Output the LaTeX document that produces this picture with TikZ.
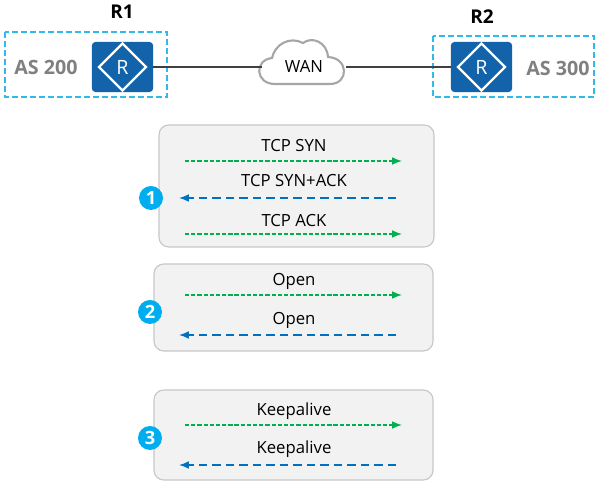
\documentclass[tikz,border=0pt]{standalone}
\usepackage{fontspec}
\setmainfont{Open Sans}
\usetikzlibrary{arrows.meta,shapes.geometric}
\definecolor{routerblue}{RGB}{18,99,170}
\definecolor{dashblue}{RGB}{50,185,235}
\definecolor{badgeblue}{RGB}{0,174,239}
\definecolor{sendgreen}{RGB}{0,176,80}
\definecolor{backblue}{RGB}{0,112,192}
\tikzset{
  asbox/.style={draw=dashblue,line width=0.8pt,dash pattern=on 4pt off 2.4pt},
  router/.style={fill=routerblue,rounded corners=2.5pt,minimum width=1.53cm,minimum height=1.25cm,inner sep=0pt},
  stagebox/.style={draw=black!22,fill=black!5,line width=0.8pt,rounded corners=7pt},
  badge/.style={circle,fill=badgeblue,text=white,font=\fontsize{13}{13}\selectfont\bfseries,minimum size=0.6cm,inner sep=0pt},
  msg/.style={font=\fontsize{11.9}{13}\selectfont,text=black},
  sendarrow/.style={draw=sendgreen,line width=1pt,dash pattern=on 3pt off 1.4pt,-{Latex[length=7pt,width=5.5pt]}},
  backarrow/.style={draw=backblue,line width=1pt,dash pattern=on 6pt off 3.6pt,-{Latex[length=7pt,width=5.5pt]}}
}
\newcommand{\routermark}[1]{
  \node[draw=white,line width=1.7pt,diamond,minimum width=1.2cm,minimum height=1.2cm,inner sep=0pt,text=white,font=\fontsize{14}{14}\selectfont] at (#1) {R};
}
\begin{document}
\begin{tikzpicture}[x=0.025cm,y=-0.025cm]
\useasboundingbox (0,0) rectangle (601,485);
% autonomous systems
\draw[asbox] (5,32) rectangle (167,97);
\draw[asbox] (433,36) rectangle (594,97);
\node[font=\fontsize{13.5}{14}\selectfont\bfseries] (r1label) at (122,12) {R1};
\node[font=\fontsize{13.5}{14}\selectfont\bfseries] (r2label) at (482,17) {R2};
\node[font=\fontsize{14}{14}\selectfont\bfseries,text=black!50] (as200) at (46,67) {AS 200};
\node[font=\fontsize{14}{14}\selectfont\bfseries,text=black!50] (as300) at (558,68) {AS 300};
\node[router] (r1) at (122.5,67) {};
\node[router] (r2) at (481.5,67) {};
\routermark{r1}
\routermark{r2}
% cloud
\draw[draw=black!35,line width=1.5pt,fill=white]
  (275,84) .. controls (255,84) and (254,60) .. (272,58)
  .. controls (275,44) and (290,36) .. (303,43)
  .. controls (312,36) and (327,42) .. (328,57)
  .. controls (349,58) and (349,84) .. (330,84) -- cycle;
\node[msg,minimum width=2.1cm,minimum height=1cm,inner sep=0pt] (wan) at (304,67) {WAN};
\draw[line width=1pt,black!75] (r1.east) -- (wan.west);
\draw[line width=1pt,black!75] (wan.east) -- (r2.west);
% stages
\node[stagebox,minimum width=6.875cm,minimum height=3.05cm] (stage1) at (296.5,186) {};
\node[stagebox,minimum width=6.975cm,minimum height=2.175cm] (stage2) at (293.5,307.5) {};
\node[stagebox,minimum width=6.975cm,minimum height=2.25cm] (stage3) at (293.5,435) {};
\node[badge] (b1) at (151,198) {1};
\node[badge] (b2) at (150,312) {2};
\node[badge] (b3) at (150,438) {3};
\node[msg] (syn) at (294,146) {TCP SYN};
\node[msg] (synack) at (294,181) {TCP SYN+ACK};
\node[msg] (ack) at (294,221) {TCP ACK};
\node[msg] (open1) at (294,281) {Open};
\node[msg] (open2) at (294,320) {Open};
\node[msg] (keep1) at (294,411) {Keepalive};
\node[msg] (keep2) at (294,449) {Keepalive};
% messages
\foreach \y/\n in {161/a,234/b,295/c,425/d}{
  \coordinate (s\n) at (185,\y);
  \coordinate (e\n) at (402,\y);
  \draw[sendarrow] (s\n) -- (e\n);
}
\foreach \y/\n in {198/a,335/b,465/c}{
  \coordinate (t\n) at (396,\y);
  \coordinate (f\n) at (179,\y);
  \draw[backarrow] (t\n) -- (f\n);
}
\end{tikzpicture}
\end{document}
